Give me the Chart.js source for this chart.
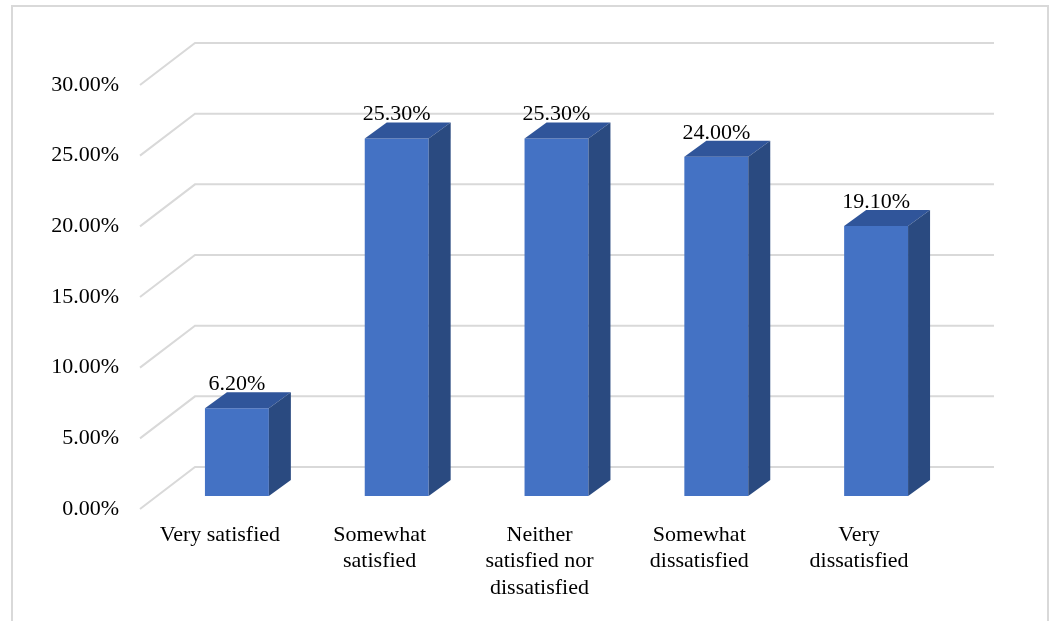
<!DOCTYPE html>
<html lang="en">
<head>
  <meta charset="UTF-8">
  <title>Satisfaction</title>
  <script src="https://cdn.jsdelivr.net/npm/chart.js@4.4.0/dist/chart.umd.min.js"></script>
  <style>
    * { margin: 0; padding: 0; box-sizing: border-box; }
    html, body { width: 1054px; height: 621px; overflow: hidden; background: #fff; }
    .chart-box { position: relative; width: 1054px; height: 621px; }
  </style>
</head>
<body>
  <div class="chart-box"><canvas id="chart"></canvas></div>

  <script>
    const categories = [
      ['Very satisfied'],
      ['Somewhat', 'satisfied'],
      ['Neither', 'satisfied nor', 'dissatisfied'],
      ['Somewhat', 'dissatisfied'],
      ['Very', 'dissatisfied']
    ];
    const shares = [6.2, 25.3, 25.3, 24.0, 19.1];
    const tickValues = [0, 5, 10, 15, 20, 25, 30];

    // 3D look: depth of the floor/wall and of each bar (px)
    const WALL_X = 55, WALL_Y = 42;
    const BAR_IN_X = 17, BAR_IN_Y = 13;
    const BAR_X = 22, BAR_Y = 16;

    const FONT = "'Liberation Serif', 'DejaVu Serif', serif";

    // outer chart border, drawn on the canvas
    const frame = {
      id: 'frame',
      beforeDraw(chart) {
        const { ctx } = chart;
        ctx.save();
        ctx.strokeStyle = '#d9d9d9';
        ctx.lineWidth = 2;
        ctx.strokeRect(12, 6, 1036, 640);
        ctx.restore();
      }
    };

    const threeD = {
      id: 'threeD',
      beforeDatasetsDraw(chart) {
        const { ctx, chartArea: a, scales: { y } } = chart;
        ctx.save();
        ctx.strokeStyle = '#d9d9d9';
        ctx.lineWidth = 2;
        y.ticks.forEach(t => {
          const py = y.getPixelForValue(t.value);
          ctx.beginPath();
          ctx.moveTo(a.left, py);
          ctx.lineTo(a.left + WALL_X, py - WALL_Y);
          ctx.lineTo(a.right + WALL_X, py - WALL_Y);
          ctx.stroke();
        });
        ctx.restore();
        // bars sit halfway into the floor
        ctx.save();
        ctx.translate(BAR_IN_X, -BAR_IN_Y);
      },
      afterDatasetsDraw(chart) {
        const { ctx } = chart;
        const meta = chart.getDatasetMeta(0);
        meta.data.forEach((bar, i) => {
          const { x, y, base, width } = bar.getProps(['x', 'y', 'base', 'width'], true);
          const l = x - width / 2, r = x + width / 2;
          // top face
          ctx.fillStyle = '#30559a';
          ctx.beginPath();
          ctx.moveTo(l, y);
          ctx.lineTo(l + BAR_X, y - BAR_Y);
          ctx.lineTo(r + BAR_X, y - BAR_Y);
          ctx.lineTo(r, y);
          ctx.closePath();
          ctx.fill();
          // side face
          ctx.fillStyle = '#2a4a80';
          ctx.beginPath();
          ctx.moveTo(r, y);
          ctx.lineTo(r + BAR_X, y - BAR_Y);
          ctx.lineTo(r + BAR_X, base - BAR_Y);
          ctx.lineTo(r, base);
          ctx.closePath();
          ctx.fill();
          // value label
          ctx.fillStyle = '#000';
          ctx.font = '22px ' + FONT;
          ctx.textAlign = 'center';
          ctx.textBaseline = 'alphabetic';
          ctx.fillText(shares[i].toFixed(2) + '%', x, y - BAR_Y - 2);
        });
        ctx.restore();
      }
    };

    new Chart(document.getElementById('chart'), {
      type: 'bar',
      data: {
        labels: categories,
        datasets: [{
          data: shares,
          backgroundColor: '#4472c4',
          borderWidth: 0,
          categoryPercentage: 1,
          barPercentage: 0.4,
          clip: false
        }]
      },
      options: {
        responsive: true,
        maintainAspectRatio: false,
        animation: false,
        layout: { padding: { top: 85, left: 12, right: 115, bottom: 22 } },
        plugins: { legend: { display: false }, tooltip: { enabled: false } },
        scales: {
          x: {
            grid: { display: false, drawTicks: false },
            border: { display: false },
            ticks: {
              color: '#000',
              padding: 13,
              maxRotation: 0,
              autoSkip: false,
              font: { family: FONT, size: 22, lineHeight: 1.2 }
            },
            afterFit(scale) { scale.height = 90; }
          },
          y: {
            min: 0,
            max: 30,
            grid: { display: false, drawTicks: false },
            border: { display: false },
            ticks: {
              color: '#000',
              padding: 21,
              font: { family: FONT, size: 22 },
              callback: v => v.toFixed(2) + '%'
            },
            afterBuildTicks(scale) { scale.ticks = tickValues.map(v => ({ value: v })); },
            afterFit(scale) { scale.width = 128; }
          }
        }
      },
      plugins: [frame, threeD]
    });
  </script>
</body>
</html>
